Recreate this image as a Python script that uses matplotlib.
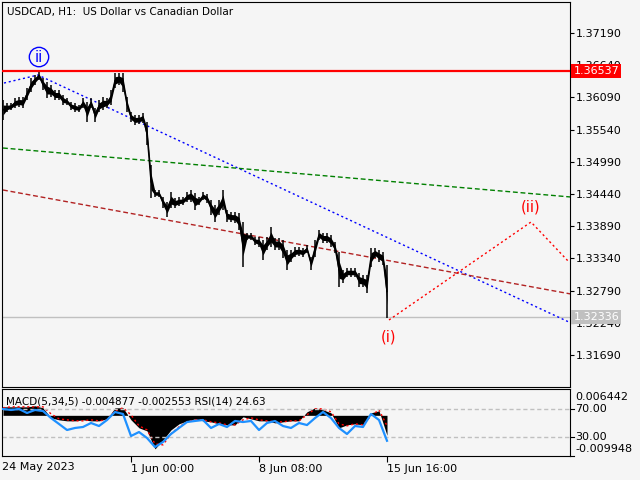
import numpy as np
import matplotlib
matplotlib.use("Agg")
import matplotlib.pyplot as plt

# price samples, every 4 H1 bars (bar 0 = 24 May 16:00)
bars = np.arange(0, 385, 4)
highs = [1.36046, 1.35995, 1.35995, 1.36080, 1.36097, 1.36097, 1.36251, 1.36422, 1.36473, 1.36524,
         1.36422, 1.36353, 1.36302, 1.36217, 1.36217, 1.36131, 1.36080, 1.36012, 1.35995, 1.35961,
         1.36080, 1.36012, 1.36080, 1.35909, 1.36046, 1.36097, 1.36080, 1.36217, 1.36507, 1.36507,
         1.36507, 1.36097, 1.35841, 1.35790, 1.35790, 1.35824, 1.35670, 1.34936, 1.34509, 1.34509,
         1.34389, 1.34304, 1.34475, 1.34372, 1.34389, 1.34389, 1.34475, 1.34509, 1.34458, 1.34389,
         1.34475, 1.34441, 1.34338, 1.34253, 1.34338, 1.34509, 1.34167, 1.34133, 1.34133, 1.34116,
         1.33962, 1.33774, 1.33774, 1.33706, 1.33706, 1.33655, 1.33706, 1.33877, 1.33689, 1.33689,
         1.33655, 1.33484, 1.33484, 1.33535, 1.33535, 1.33518, 1.33569, 1.33364, 1.33655, 1.33826,
         1.33774, 1.33774, 1.33740, 1.33621, 1.33450, 1.33142, 1.33177, 1.33177, 1.33177, 1.33091,
         1.33057, 1.33057, 1.33518, 1.33518, 1.33484, 1.33450, 1.33228]
lows = [1.35704, 1.35841, 1.35875, 1.35909, 1.35926, 1.35909, 1.36046, 1.36183, 1.36302, 1.36388,
        1.36217, 1.36080, 1.36097, 1.36046, 1.36046, 1.35961, 1.35961, 1.35875, 1.35841, 1.35841,
        1.35909, 1.35670, 1.35909, 1.35670, 1.35841, 1.35875, 1.35909, 1.35961, 1.36251, 1.36302,
        1.36183, 1.35841, 1.35670, 1.35619, 1.35636, 1.35653, 1.35277, 1.34372, 1.34389, 1.34389,
        1.34201, 1.34048, 1.34201, 1.34201, 1.34236, 1.34253, 1.34304, 1.34304, 1.34167, 1.34253,
        1.34338, 1.34287, 1.34082, 1.33962, 1.34082, 1.34167, 1.33962, 1.33962, 1.33945, 1.33826,
        1.33194, 1.33655, 1.33655, 1.33569, 1.33535, 1.33313, 1.33484, 1.33535, 1.33484, 1.33484,
        1.33347, 1.33142, 1.33279, 1.33364, 1.33382, 1.33364, 1.33433, 1.33142, 1.33364, 1.33655,
        1.33604, 1.33604, 1.33535, 1.33433, 1.32852, 1.32920, 1.33023, 1.33023, 1.33023, 1.32852,
        1.32852, 1.32750, 1.33194, 1.33347, 1.33279, 1.33228, 1.32323]
last_price = 1.32336
level_price = 1.36537

# indicator samples, every 8 bars
ind_bars = np.arange(0, 385, 8)
macd = [0.00208, 0.00208, 0.00208, 0.00208, 0.00233, 0.00184, -0.00061, -0.00110, -0.00135, -0.00135,
        -0.00110, -0.00135, -0.00135, -0.00086, 0.00184, 0.00184, -0.00110, -0.00306, -0.00380, -0.00821,
        -0.00600, -0.00355, -0.00208, -0.00135, -0.00086, -0.00135, -0.00159, -0.00208, -0.00233, -0.00233,
        -0.00037, -0.00086, -0.00135, -0.00135, -0.00184, -0.00159, -0.00135, -0.00135, 0.00086, 0.00184,
        0.00135, 0.00061, -0.00306, -0.00233, -0.00208, -0.00233, 0.00061, 0.00110, -0.00488]
signal = [0.00184, 0.00208, 0.00208, 0.00208, 0.00208, 0.00208, 0.00037, -0.00086, -0.00110, -0.00135,
          -0.00135, -0.00110, -0.00135, -0.00110, 0.00110, 0.00184, 0.00012, -0.00257, -0.00355, -0.00698,
          -0.00723, -0.00453, -0.00282, -0.00159, -0.00110, -0.00110, -0.00159, -0.00184, -0.00233, -0.00233,
          -0.00110, -0.00061, -0.00110, -0.00135, -0.00159, -0.00159, -0.00135, -0.00135, 0.00012, 0.00159,
          0.00159, 0.00086, -0.00208, -0.00257, -0.00208, -0.00233, -0.00012, 0.00135, -0.00255]
rsi = [70.0, 68.6, 70.0, 64.3, 68.6, 67.1, 57.1, 48.6, 40.0, 42.9,
       44.3, 50.0, 45.7, 54.3, 65.7, 62.9, 31.4, 37.1, 28.6, 15.7,
       22.9, 34.3, 42.9, 51.4, 52.9, 54.3, 42.9, 48.6, 44.3, 52.9,
       51.4, 52.9, 40.0, 50.0, 52.9, 45.7, 42.9, 50.0, 47.1, 57.1,
       65.7, 57.1, 42.9, 34.3, 45.7, 44.3, 62.9, 54.3, 24.63]

# analysis lines (bar, price)
blue_line = [(1, 1.36336), (35, 1.36473), (568, 1.32237)]
green_line = [(0, 1.35226), (568, 1.34389)]
brown_line = [(0, 1.34509), (568, 1.32732)]
wave = [(386, 1.32289), (528, 1.33962), (566, 1.33279)]

price_ticks = np.arange(1.31690, 1.3720, 0.0055)
date_bars = [128, 256, 384]
date_labels = ["1 Jun 00:00", "8 Jun 08:00", "15 Jun 16:00"]

bg = "#f5f5f5"
fig = plt.figure(figsize=(6.4, 4.8), dpi=100, facecolor=bg)
W, H = 640, 480

def rect(x0, y0, x1, y1):
    return [x0 / W, 1 - y1 / H, (x1 - x0) / W, (y1 - y0) / H]

# main price panel
ax = fig.add_axes(rect(2, 2, 570, 387), facecolor=bg)
ax.set_xlim(-1, 567)
ax.set_ylim(1.31144, 1.37720)

# thin high-low band plus one stroke per sample for the bar texture
mids = (np.array(highs) + np.array(lows)) / 2
ax.fill_between(bars, (np.array(lows) + mids) / 2, (np.array(highs) + mids) / 2,
                color="black", lw=0, zorder=3)
ax.vlines(bars, lows, highs, color="black", lw=1.1, zorder=3)
ax.plot(bars, mids, color="black", lw=1, zorder=3)

ax.axhline(level_price, color="red", lw=1.6, zorder=4)
ax.axhline(last_price, color="#c0c0c0", lw=1, zorder=1)

bx, by = zip(*blue_line)
ax.plot(bx, by, color="blue", lw=1, ls=(0, (1.5, 2)), zorder=2)
gx, gy = zip(*green_line)
ax.plot(gx, gy, color="green", lw=1, ls=(0, (3.5, 2)), zorder=2)
rx, ry = zip(*brown_line)
ax.plot(rx, ry, color="#b22222", lw=1, ls=(0, (3.5, 2)), zorder=2)
wx, wy = zip(*wave)
ax.plot(wx, wy, color="red", lw=1, ls=(0, (1.5, 2)), zorder=2)

ax.text(386, 1.31998, "(i)", color="red", fontsize=10.5, ha="center", va="center")
ax.text(528, 1.34218, "(ii)", color="red", fontsize=10.5, ha="center", va="center")
ax.text(36, 1.36780, "ii", color="blue", fontsize=10.5, ha="center", va="center",
        bbox=dict(boxstyle="circle,pad=0.15", fc="none", ec="blue", lw=1))

ax.yaxis.tick_right()
ax.set_yticks(price_ticks)
ax.set_yticklabels([f"{v:.5f}" for v in price_ticks])
ax.tick_params(axis="y", direction="out", length=3, width=0.8, pad=1, labelsize=8)
ax.set_xticks([])
for s in ax.spines.values():
    s.set_linewidth(0.8)

ax.text(1.006, level_price, "1.36537", transform=ax.get_yaxis_transform(), color="white",
        fontsize=8, va="center", ha="left", zorder=6, clip_on=False,
        bbox=dict(boxstyle="square,pad=0.2", fc="red", ec="none"))
ax.text(1.006, last_price, "1.32336", transform=ax.get_yaxis_transform(), color="white",
        fontsize=8, va="center", ha="left", zorder=6, clip_on=False,
        bbox=dict(boxstyle="square,pad=0.2", fc="#c0c0c0", ec="none"))

fig.text(7 / W, 1 - 12 / H, "USDCAD, H1:  US Dollar vs Canadian Dollar", fontsize=7.5, va="center")

# indicator panel: RSI scale
ax2 = fig.add_axes(rect(2, 389, 570, 456), facecolor=bg)
ax2.set_xlim(-1, 567)
ax2.set_ylim(2.86, 98.57)
ax2.axhline(70, color="#c0c0c0", lw=1, ls=(0, (3, 2)))
ax2.axhline(30, color="#c0c0c0", lw=1, ls=(0, (3, 2)))
ax2.set_yticks([])
ax2.set_xticks(date_bars)
ax2.set_xticklabels(date_labels, ha="left")
ax2.tick_params(axis="x", direction="out", length=4, width=0.8, pad=2, labelsize=8)
for s in ax2.spines.values():
    s.set_linewidth(0.8)

# MACD on its own scale, same panel
ax3 = fig.add_axes(rect(2, 389, 570, 456), facecolor=bg)
ax3.set_xlim(-1, 567)
ax3.set_ylim(-0.009948, 0.006442)
ax3.fill_between(ind_bars, 0, macd, color="black", lw=0, zorder=2)
ax3.plot(ind_bars, signal, color="red", lw=1, ls=(0, (1.5, 2)), zorder=3)
ax3.axis("off")
ax2.plot(ind_bars, rsi, color="#1e90ff", lw=1.6, zorder=5)
ax3.set_zorder(1)
ax2.set_zorder(2)
ax2.patch.set_visible(False)

fig.text(6 / W, 1 - 401 / H, "MACD(5,34,5) -0.004877 -0.002553 RSI(14) 24.63", fontsize=7.5, va="center")
for txt, y in [("0.006442", 397), ("70.00", 409), ("30.00", 437), ("-0.009948", 449)]:
    fig.text(575 / W, 1 - y / H, txt, fontsize=8, va="center")
for y in [409, 437, 456]:
    fig.add_artist(plt.Line2D([570 / W, 574 / W], [1 - y / H, 1 - y / H], color="black", lw=0.8))

fig.text(2 / W, 1 - 467 / H, "24 May 2023", fontsize=8, va="center")

fig.savefig("out.png", dpi=100, facecolor=bg)
